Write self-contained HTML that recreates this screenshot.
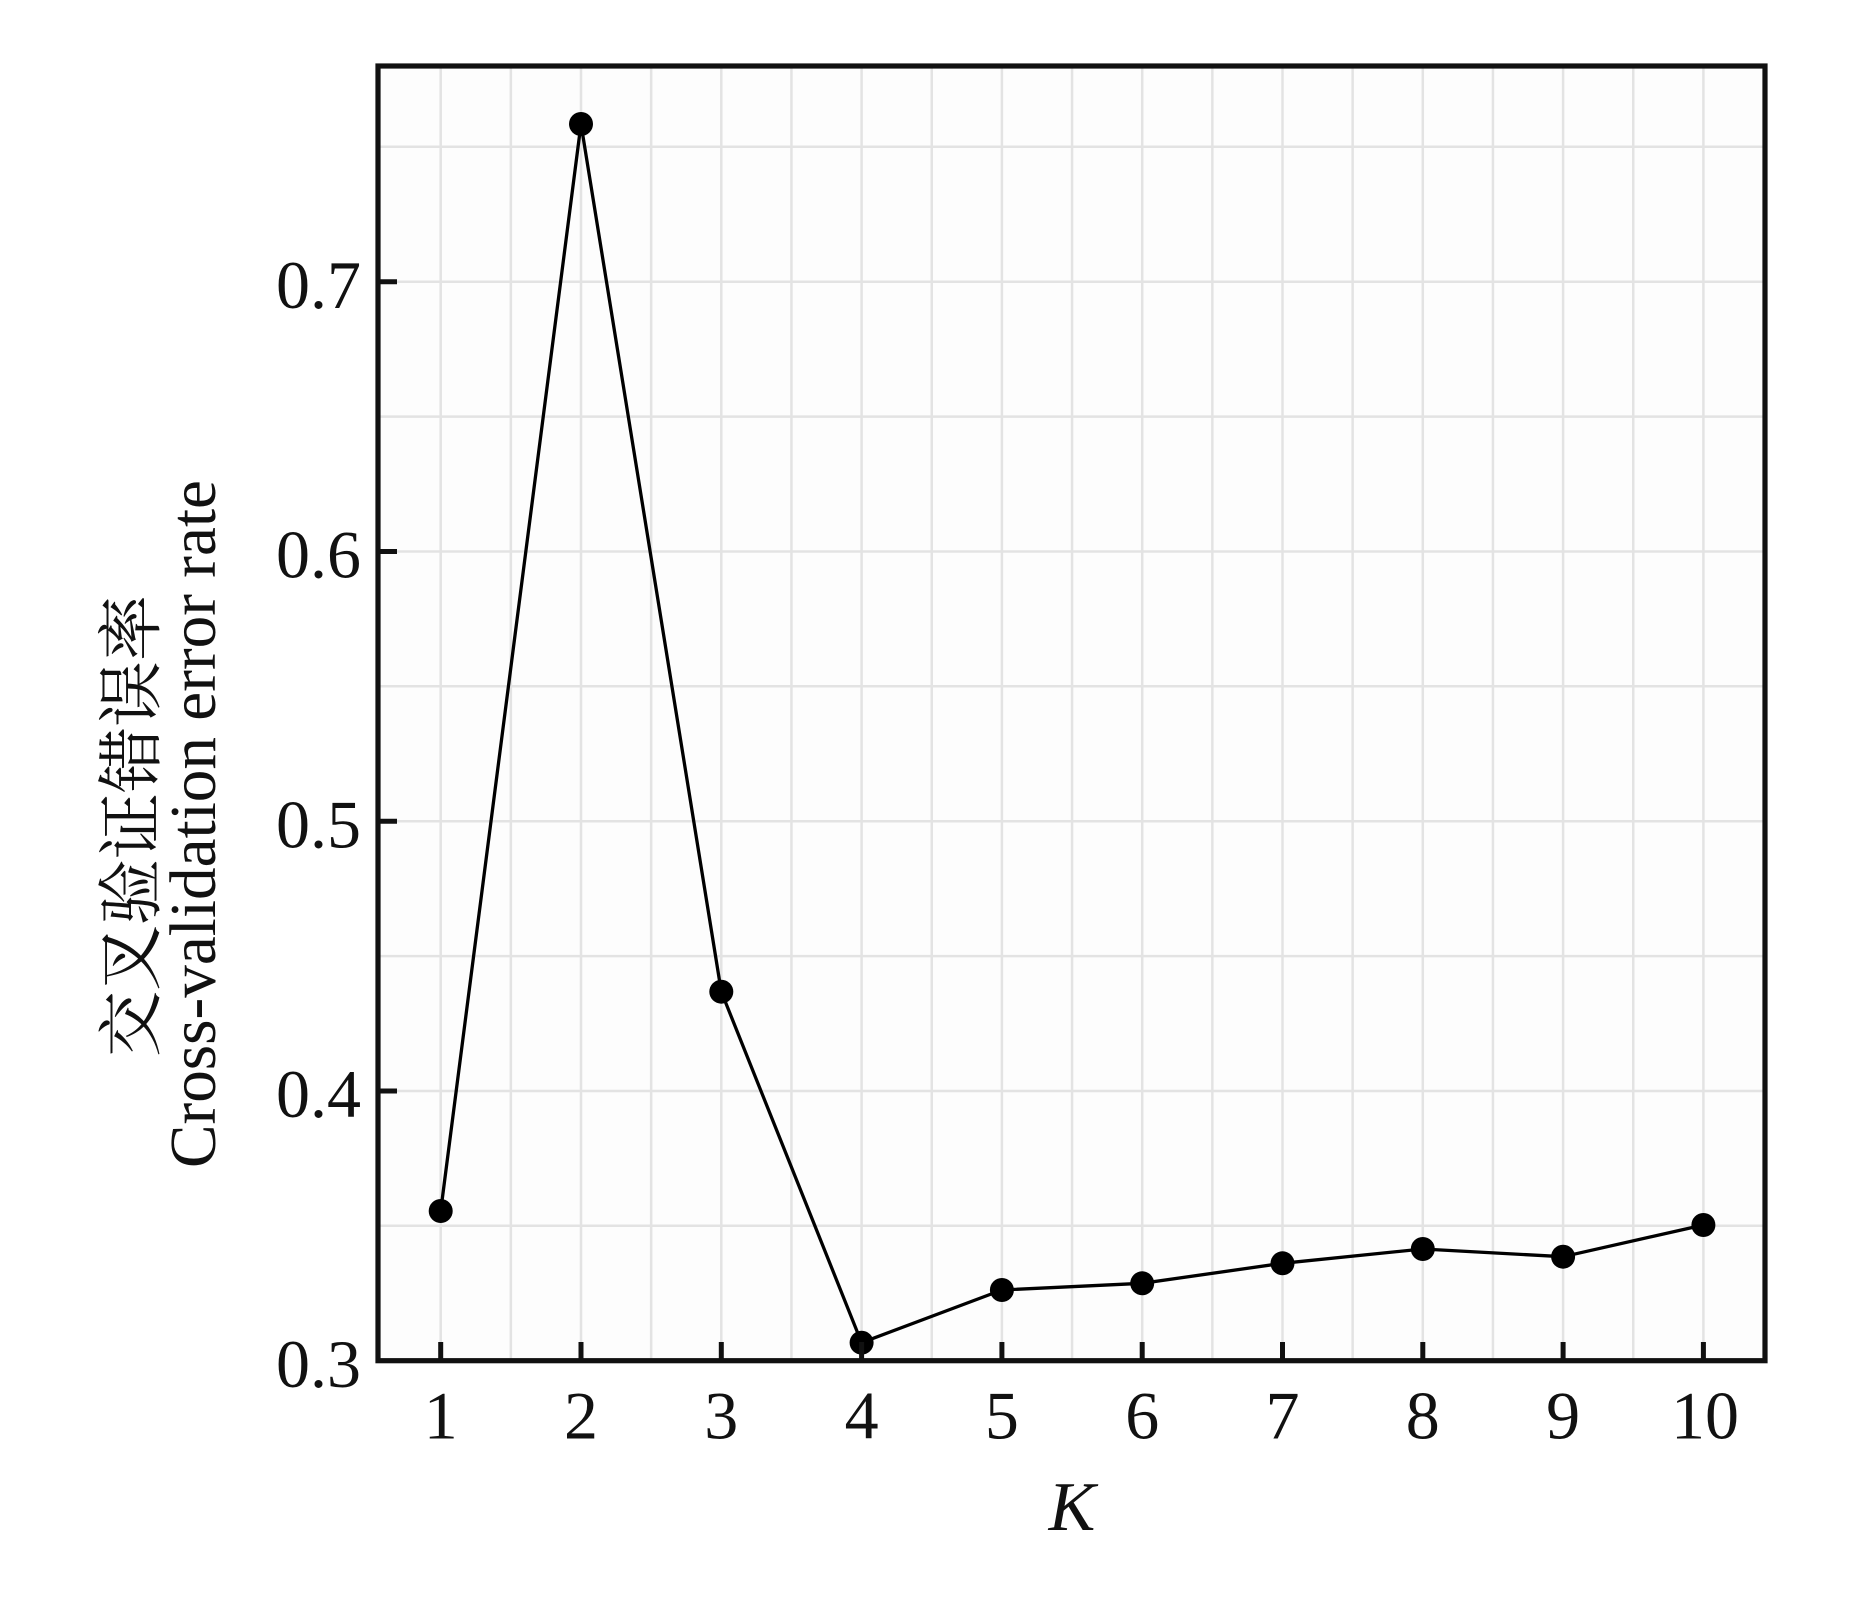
<!DOCTYPE html>
<html>
<head>
<meta charset="utf-8">
<style>
  html, body { margin: 0; padding: 0; background: #ffffff; }
  svg { display: block; }
  .tick { font-family: "Liberation Serif", "Times New Roman", serif; font-size: 68px; fill: #111; }
</style>
</head>
<body>
<svg width="1866" height="1606" viewBox="0 0 1866 1606" xmlns="http://www.w3.org/2000/svg">
  <rect x="0" y="0" width="1866" height="1606" fill="#ffffff"/>
  <!-- plot background -->
  <rect x="378" y="66" width="1387" height="1294.7" fill="#fdfdfd"/>

  <!-- grid lines vertical (k and k+0.5) -->
  <g stroke="#e3e3e3" stroke-width="2.5">
    <line x1="440.7" y1="66" x2="440.7" y2="1360.7"/>
    <line x1="510.85" y1="66" x2="510.85" y2="1360.7"/>
    <line x1="581" y1="66" x2="581" y2="1360.7"/>
    <line x1="651.15" y1="66" x2="651.15" y2="1360.7"/>
    <line x1="721.3" y1="66" x2="721.3" y2="1360.7"/>
    <line x1="791.45" y1="66" x2="791.45" y2="1360.7"/>
    <line x1="861.6" y1="66" x2="861.6" y2="1360.7"/>
    <line x1="931.75" y1="66" x2="931.75" y2="1360.7"/>
    <line x1="1001.9" y1="66" x2="1001.9" y2="1360.7"/>
    <line x1="1072.05" y1="66" x2="1072.05" y2="1360.7"/>
    <line x1="1142.2" y1="66" x2="1142.2" y2="1360.7"/>
    <line x1="1212.35" y1="66" x2="1212.35" y2="1360.7"/>
    <line x1="1282.5" y1="66" x2="1282.5" y2="1360.7"/>
    <line x1="1352.65" y1="66" x2="1352.65" y2="1360.7"/>
    <line x1="1422.8" y1="66" x2="1422.8" y2="1360.7"/>
    <line x1="1492.95" y1="66" x2="1492.95" y2="1360.7"/>
    <line x1="1563.1" y1="66" x2="1563.1" y2="1360.7"/>
    <line x1="1633.25" y1="66" x2="1633.25" y2="1360.7"/>
    <line x1="1703.4" y1="66" x2="1703.4" y2="1360.7"/>
  </g>
  <!-- grid lines horizontal -->
  <g stroke="#e3e3e3" stroke-width="2.5">
    <line x1="378" y1="1225.8" x2="1765" y2="1225.8"/>
    <line x1="378" y1="1090.95" x2="1765" y2="1090.95"/>
    <line x1="378" y1="956.1" x2="1765" y2="956.1"/>
    <line x1="378" y1="821.2" x2="1765" y2="821.2"/>
    <line x1="378" y1="686.3" x2="1765" y2="686.3"/>
    <line x1="378" y1="551.45" x2="1765" y2="551.45"/>
    <line x1="378" y1="416.6" x2="1765" y2="416.6"/>
    <line x1="378" y1="281.7" x2="1765" y2="281.7"/>
    <line x1="378" y1="146.8" x2="1765" y2="146.8"/>
  </g>

  <!-- data line -->
  <polyline fill="none" stroke="#000" stroke-width="3.3" stroke-linejoin="round"
    points="440.7,1211 581,124 721.3,991.7 861.6,1342.7 1001.9,1290 1142.2,1283.3 1282.5,1263.3 1422.8,1249 1563.1,1256.7 1703.4,1225"/>
  <g fill="#000">
    <circle cx="440.7" cy="1211" r="12"/>
    <circle cx="581" cy="124" r="12"/>
    <circle cx="721.3" cy="991.7" r="12"/>
    <circle cx="861.6" cy="1342.7" r="12"/>
    <circle cx="1001.9" cy="1290" r="12"/>
    <circle cx="1142.2" cy="1283.3" r="12"/>
    <circle cx="1282.5" cy="1263.3" r="12"/>
    <circle cx="1422.8" cy="1249" r="12"/>
    <circle cx="1563.1" cy="1256.7" r="12"/>
    <circle cx="1703.4" cy="1225" r="12"/>
  </g>

  <!-- ticks -->
  <g stroke="#111" stroke-width="5">
    <line x1="440.7" y1="1360.7" x2="440.7" y2="1342"/>
    <line x1="581" y1="1360.7" x2="581" y2="1342"/>
    <line x1="721.3" y1="1360.7" x2="721.3" y2="1342"/>
    <line x1="861.6" y1="1360.7" x2="861.6" y2="1342"/>
    <line x1="1001.9" y1="1360.7" x2="1001.9" y2="1342"/>
    <line x1="1142.2" y1="1360.7" x2="1142.2" y2="1342"/>
    <line x1="1282.5" y1="1360.7" x2="1282.5" y2="1342"/>
    <line x1="1422.8" y1="1360.7" x2="1422.8" y2="1342"/>
    <line x1="1563.1" y1="1360.7" x2="1563.1" y2="1342"/>
    <line x1="1703.4" y1="1360.7" x2="1703.4" y2="1342"/>
    <line x1="378" y1="1090.95" x2="397" y2="1090.95"/>
    <line x1="378" y1="821.2" x2="397" y2="821.2"/>
    <line x1="378" y1="551.45" x2="397" y2="551.45"/>
    <line x1="378" y1="281.7" x2="397" y2="281.7"/>
  </g>

  <!-- frame -->
  <rect x="378" y="66" width="1387" height="1294.7" fill="none" stroke="#111" stroke-width="5.2"/>

  <!-- x tick labels -->
  <g class="tick" text-anchor="middle">
    <text x="440.7" y="1438.5">1</text>
    <text x="581" y="1438.5">2</text>
    <text x="721.3" y="1438.5">3</text>
    <text x="861.6" y="1438.5">4</text>
    <text x="1001.9" y="1438.5">5</text>
    <text x="1142.2" y="1438.5">6</text>
    <text x="1282.5" y="1438.5">7</text>
    <text x="1422.8" y="1438.5">8</text>
    <text x="1563.1" y="1438.5">9</text>
    <text x="1705" y="1438.5">10</text>
  </g>
  <!-- y tick labels -->
  <g class="tick" text-anchor="end">
    <text x="361" y="1387">0.3</text>
    <text x="361" y="1117.2">0.4</text>
    <text x="361" y="847.5">0.5</text>
    <text x="361" y="577.7">0.6</text>
    <text x="361" y="308">0.7</text>
  </g>

  <!-- x axis title -->
  <text x="1072" y="1530" text-anchor="middle" font-family="'Liberation Serif', 'Times New Roman', serif" font-style="italic" font-size="70" fill="#111">K</text>

  <!-- y axis title -->
  <g transform="translate(154,826) rotate(-90)">
    <text x="0" y="0" text-anchor="middle" font-family="'Liberation Serif', 'Noto Serif CJK SC', 'Noto Sans CJK SC', serif" font-size="66" fill="#111">交叉验证错误率</text>
  </g>
  <g transform="translate(215,824) rotate(-90)">
    <text x="0" y="0" text-anchor="middle" font-family="'Liberation Serif', 'Times New Roman', serif" font-size="66" fill="#111" textLength="688" lengthAdjust="spacingAndGlyphs">Cross-validation error rate</text>
  </g>
</svg>
</body>
</html>
